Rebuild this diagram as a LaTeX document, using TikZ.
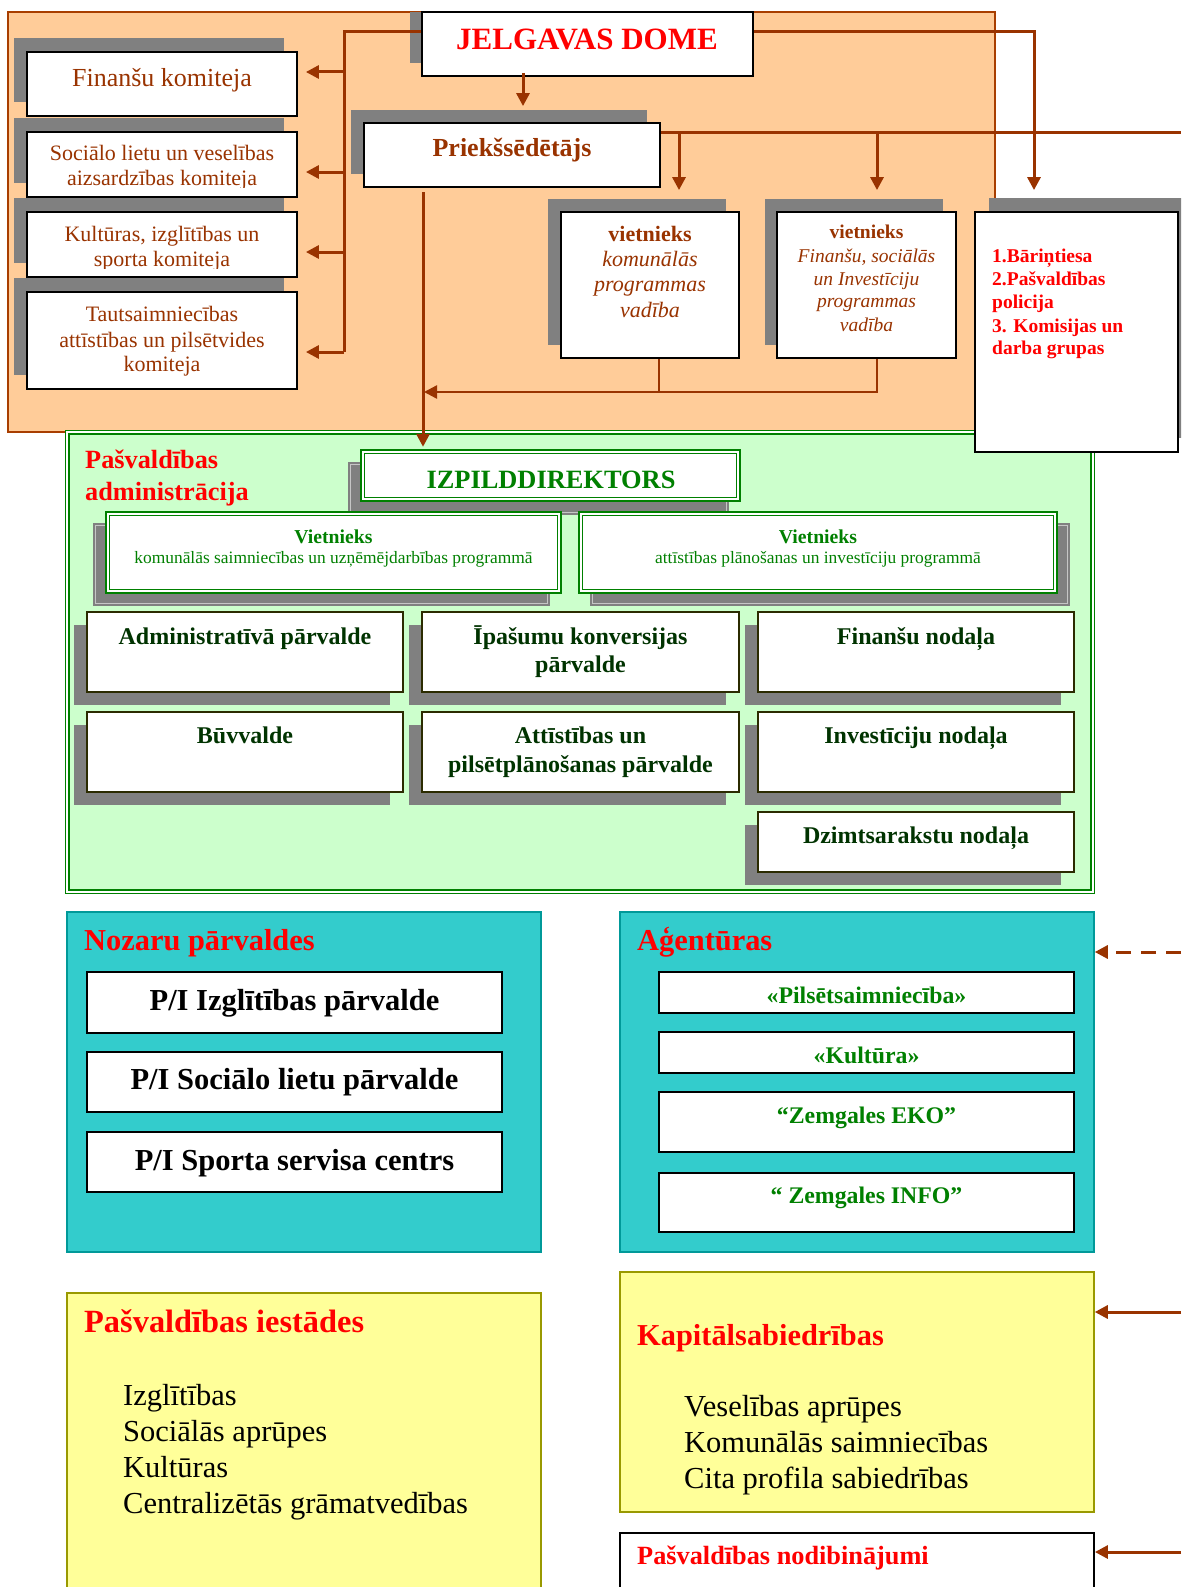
\documentclass[tikz,border=0pt]{standalone}
\usepackage{fontspec}
\setmainfont{Liberation Serif}
\usetikzlibrary{arrows.meta,fit}
\definecolor{peach}{HTML}{FFCC99}
\definecolor{brn}{HTML}{993300}
\definecolor{shd}{HTML}{808080}
\definecolor{lgrn}{HTML}{CCFFCC}
\definecolor{grn}{HTML}{008000}
\definecolor{dgrn}{HTML}{003300}
\definecolor{dline}{HTML}{2B2B00}
\definecolor{teala}{HTML}{33CCCC}
\definecolor{tealb}{HTML}{009999}
\definecolor{yel}{HTML}{FFFF99}
\definecolor{olv}{HTML}{999900}
\definecolor{redt}{HTML}{FF0000}
\newcommand{\fz}[1]{\fontsize{#1}{#1}\selectfont}
\tikzset{
  wbox/.style={draw=black, line width=1.8pt, fill=white, inner sep=0pt},
  dbox/.style={draw=dline, line width=1.8pt, fill=white, inner sep=0pt},
  gbox/.style={draw=grn, double=white, double distance=2pt, line width=1.6pt, fill=white, inner sep=0pt},
  panel/.style={line width=1.5pt, inner sep=0pt},
  txt/.style={inner sep=0pt, anchor=base},
  ltxt/.style={inner sep=0pt, anchor=base west},
  shadowbox/.style={fill=shd},
  conn/.style={draw=brn, line width=3pt},
  arr/.style={conn, -{Triangle[length=13pt,width=13pt]}},
  thinarr/.style={draw=brn, line width=2.4pt, -{Triangle[length=13pt,width=13pt]}},
  dashedarr/.style={arr, dash pattern=on 15pt off 10pt},
  comtxt/.style={txt, text=brn, font=\fz{22}},
  deptxt/.style={txt, text=dgrn, font=\bfseries\fz{24}},
  nozbtxt/.style={txt, text=black, font=\bfseries\fz{30.5}},
  agtxt/.style={txt, text=grn, font=\bfseries\fz{23.8}},
  ttl/.style={ltxt, text=redt, font=\bfseries\fz{30.4}},
  itm/.style={ltxt, text=black, font=\fz{30.5}},
  bartxt/.style={ltxt, text=redt, font=\bfseries\fz{19.5}}
}
\begin{document}
\begin{tikzpicture}[x=1pt,y=-1pt]
\useasboundingbox (0,0) rectangle (1181,1587);
\clip (0,0) rectangle (1181,1587);

% ===== top orange panel =====
\node[panel, fit={(8,12) (995,432)}, fill=peach, draw=brn!85!orange] (dome) {};

% JELGAVAS DOME
\fill[shadowbox] (410,12) rectangle (741,63);
\node[wbox, fit={(422,12) (753,76)}] (jel) {};
\node[txt, text=redt, font=\bfseries\fz{31}] (tjel) at (587,50) {JELGAVAS DOME};

% committees
\fill[shadowbox] (14,38) rectangle (284,102);
\node[wbox, fit={(27,52) (297,116)}] (fin) {};
\node[txt, text=brn, font=\fz{26}] (tfin) at (162,86) {Finanšu komiteja};

\fill[shadowbox] (14,118) rectangle (284,183);
\node[wbox, fit={(27,132) (297,197)}] (soc) {};
\begin{scope}
\clip (28,133) rectangle (296,187.5);
\node[comtxt] (tsoc1) at (162,160) {Sociālo lietu un veselības};
\node[comtxt] (tsoc2) at (162,185) {aizsardzības komiteja};
\end{scope}

\fill[shadowbox] (14,198) rectangle (284,263);
\node[wbox, fit={(27,212) (297,277)}] (kul) {};
\begin{scope}
\clip (28,213) rectangle (296,268);
\node[comtxt] (tkul1) at (162,241) {Kultūras, izglītības un};
\node[comtxt] (tkul2) at (162,266) {sporta komiteja};
\end{scope}

\fill[shadowbox] (14,278) rectangle (284,375);
\node[wbox, fit={(27,292) (297,389)}] (tau) {};
\node[comtxt] (ttau1) at (162,321) {Tautsaimniecības};
\node[comtxt] (ttau2) at (162,347) {attīstības un pilsētvides};
\node[comtxt] (ttau3) at (162,371) {komiteja};

% Priekšsēdētājs
\fill[shadowbox] (351,110) rectangle (647,174);
\node[wbox, fit={(364,123) (660,187)}] (pr) {};
\node[txt, text=brn, font=\bfseries\fz{26}] (tpr) at (512,156) {Priekšsēdētājs};

% vietnieki
\fill[shadowbox] (548,199) rectangle (726,345);
\node[wbox, fit={(561,212) (739,358)}] (v1) {};
\node[txt, text=brn, font=\bfseries\fz{22}] (tv1a) at (650,241) {vietnieks};
\node[txt, text=brn, font=\itshape\fz{22}] (tv1b) at (650,266) {komunālās};
\node[txt, text=brn, font=\itshape\fz{22}] (tv1c) at (650,291) {programmas};
\node[txt, text=brn, font=\itshape\fz{22}] (tv1d) at (650,317) {vadība};

\fill[shadowbox] (765,199) rectangle (943,345);
\node[wbox, fit={(777,212) (956,358)}] (v2) {};
\node[txt, text=brn, font=\bfseries\fz{19.5}] (tv2a) at (866.5,238) {vietnieks};
\node[txt, text=brn, font=\itshape\fz{19.5}] (tv2b) at (866.5,262) {Finanšu, sociālās};
\node[txt, text=brn, font=\itshape\fz{19.5}] (tv2c) at (866.5,285) {un Investīciju};
\node[txt, text=brn, font=\itshape\fz{19.5}] (tv2d) at (866.5,307) {programmas};
\node[txt, text=brn, font=\itshape\fz{19.5}] (tv2e) at (866.5,331) {vadība};

% ===== green administration panel =====
\node[fit={(67.4,432.4) (1092.6,891.6)}, draw=grn, double=white, double distance=2pt, line width=1.6pt, fill=lgrn, inner sep=0pt] (adm) {};
\node[ltxt, text=redt, font=\bfseries\fz{26.3}] (tadm1) at (85,468) {Pašvaldības};
\node[ltxt, text=redt, font=\bfseries\fz{26.3}] (tadm2) at (85,500) {administrācija};

% Bāriņtiesa box (overlaps)
\fill[shadowbox] (989,198) rectangle (1195,438);
\node[wbox, fit={(975,212) (1178,452)}] (bt) {};
\node[bartxt] (tbt1) at (992,262) {1.Bāriņtiesa};
\node[bartxt] (tbt2) at (992,285) {2.Pašvaldības};
\node[bartxt] (tbt3) at (992,308) {policija};
\node[bartxt] (tbt4) at (992,332) {3. Komisijas un};
\node[bartxt] (tbt5) at (992,354) {darba grupas};

% IZPILDDIREKTORS
\fill[shadowbox] (348,462) rectangle (729,515);
\draw[gray!45, line width=0.8pt] (350.5,464.5) rectangle (726.5,512.5);
\node[gbox, fit={(362.6,451.6) (738.4,499.4)}] (iz) {};
\node[txt, text=grn, font=\bfseries\fz{26.4}] (tiz) at (551,488) {IZPILDDIREKTORS};

% Vietnieks boxes
\fill[shadowbox] (93,523) rectangle (550,606);
\draw[gray!45, line width=0.8pt] (95.5,525.5) rectangle (547.5,603.5);
\node[gbox, fit={(107.6,513.6) (559.4,591.4)}] (vk) {};
\node[txt, text=grn, font=\bfseries\fz{19.7}] (tvk1) at (333.5,543) {Vietnieks};
\node[txt, text=grn, font=\fz{17.4}] (tvk2) at (333.5,563) {komunālās saimniecības un uzņēmējdarbības programmā};

\fill[shadowbox] (590,523) rectangle (1070,606);
\draw[gray!45, line width=0.8pt] (592.5,525.5) rectangle (1067.5,603.5);
\node[gbox, fit={(580.6,513.6) (1055.4,591.4)}] (va) {};
\node[txt, text=grn, font=\bfseries\fz{19.7}] (tva1) at (818,543) {Vietnieks};
\node[txt, text=grn, font=\fz{17.4}] (tva2) at (818,563) {attīstības plānošanas un investīciju programmā};

% departments
\fill[shadowbox] (74,625) rectangle (390,705);
\node[dbox, fit={(87,612) (403,692)}] (d1) {};
\node[deptxt] (td1) at (245,644) {Administratīvā pārvalde};

\fill[shadowbox] (409,625) rectangle (726,705);
\node[dbox, fit={(422,612) (739,692)}] (d2) {};
\node[deptxt] (td2a) at (580.5,644) {Īpašumu konversijas};
\node[deptxt] (td2b) at (580.5,672) {pārvalde};

\fill[shadowbox] (745,625) rectangle (1061,705);
\node[dbox, fit={(758,612) (1074,692)}] (d3) {};
\node[deptxt] (td3) at (916,644) {Finanšu nodaļa};

\fill[shadowbox] (74,725) rectangle (390,805);
\node[dbox, fit={(87,712) (403,792)}] (d4) {};
\node[deptxt] (td4) at (245,743) {Būvvalde};

\fill[shadowbox] (409,725) rectangle (726,805);
\node[dbox, fit={(422,712) (739,792)}] (d5) {};
\node[deptxt] (td5a) at (580.5,743) {Attīstības un};
\node[deptxt] (td5b) at (580.5,772) {pilsētplānošanas pārvalde};

\fill[shadowbox] (745,725) rectangle (1061,805);
\node[dbox, fit={(758,712) (1074,792)}] (d6) {};
\node[deptxt] (td6) at (916,743) {Investīciju nodaļa};

\fill[shadowbox] (745,825) rectangle (1061,885);
\node[dbox, fit={(758,812) (1074,872)}] (d7) {};
\node[deptxt] (td7) at (916,843) {Dzimtsarakstu nodaļa};

% ===== Nozaru pārvaldes =====
\node[panel, fit={(67,912) (541,1252)}, fill=teala, draw=tealb] (noz) {};
\node[ttl] (tnoz) at (84,950) {Nozaru pārvaldes};
\node[wbox, fit={(87,972) (502,1033)}] (n1) {};
\node[nozbtxt] (tn1) at (294.5,1010) {P/I Izglītības pārvalde};
\node[wbox, fit={(87,1052) (502,1112)}] (n2) {};
\node[nozbtxt] (tn2) at (294.5,1089) {P/I Sociālo lietu pārvalde};
\node[wbox, fit={(87,1132) (502,1192)}] (n3) {};
\node[nozbtxt] (tn3) at (294.5,1170) {P/I Sporta servisa centrs};

% ===== Aģentūras =====
\node[panel, fit={(620,912) (1094,1252)}, fill=teala, draw=tealb] (ag) {};
\node[ttl] (tag) at (637,950) {Aģentūras};
\node[wbox, fit={(659,972) (1074,1013)}] (a1) {};
\node[agtxt] (ta1) at (866.5,1003) {«Pilsētsaimniecība»};
\node[wbox, fit={(659,1032) (1074,1073)}] (a2) {};
\node[agtxt] (ta2) at (866.5,1063) {«Kultūra»};
\node[wbox, fit={(659,1092) (1074,1152)}] (a3) {};
\node[agtxt] (ta3) at (866.5,1123) {“Zemgales EKO”};
\node[wbox, fit={(659,1173) (1074,1232)}] (a4) {};
\node[agtxt] (ta4) at (866.5,1203) {“ Zemgales INFO”};

% ===== Pašvaldības iestādes =====
\node[panel, fit={(67,1293) (541,1610)}, fill=yel, draw=olv] (ies) {};
\node[ltxt, text=redt, font=\bfseries\fz{32.4}] (ties) at (84,1332) {Pašvaldības iestādes};
\node[itm] (ti1) at (123,1405) {Izglītības};
\node[itm] (ti2) at (123,1441) {Sociālās aprūpes};
\node[itm] (ti3) at (123,1477) {Kultūras};
\node[itm] (ti4) at (123,1513) {Centralizētās grāmatvedības};

% ===== Kapitālsabiedrības =====
\node[panel, fit={(620,1272) (1094,1512)}, fill=yel, draw=olv] (kap) {};
\node[ttl] (tkap) at (637,1345) {Kapitālsabiedrības};
\node[itm] (tk1) at (684,1416) {Veselības aprūpes};
\node[itm] (tk2) at (684,1452) {Komunālās saimniecības};
\node[itm] (tk3) at (684,1488) {Cita profila sabiedrības};

% ===== Pašvaldības nodibinājumi =====
\node[wbox, fit={(620,1533) (1094,1610)}] (nod) {};
\node[ltxt, text=redt, font=\bfseries\fz{26.3}] (tnod) at (637,1564) {Pašvaldības nodibinājumi};

% ===== connectors =====
\coordinate (jl) at (344,32);
\coordinate (jlb) at (344,352);
\draw[conn] (jel.west |- jl) -- (jl) -- (jlb);
\coordinate (c1) at (344,72);
\coordinate (c2) at (344,172);
\coordinate (c3) at (344,252);
\draw[arr, shorten >=8pt] (c1) -- (c1 -| fin.east);
\draw[arr, shorten >=8pt] (c2) -- (c2 -| soc.east);
\draw[arr, shorten >=8pt] (c3) -- (c3 -| kul.east);
\draw[arr, shorten >=8pt] (jlb) -- (jlb -| tau.east);

\coordinate (jp) at (523,73);
\draw[arr, shorten >=16pt] (jp) -- (jp |- pr.north);

\coordinate (pe) at (1181,132);
\draw[conn] (pr.east |- pe) -- (pe);
\coordinate (p1) at (679,132);
\coordinate (p2) at (877,132);
\draw[arr, shorten >=21pt] (p1) -- (p1 |- v1.north);
\draw[arr, shorten >=21pt] (p2) -- (p2 |- v2.north);

\coordinate (jr) at (1034,32);
\draw[arr, shorten >=21pt] (jel.east |- jr) -- (jr) -- (jr |- bt.north);

\coordinate (vt) at (423,192);
\draw[arr, shorten >=4pt] (vt) -- (vt |- iz.north);
\coordinate (b1) at (659,392);
\coordinate (b2) at (877,392);
\draw[draw=brn, line width=2.4pt] (b1 |- v1.south) -- (b1);
\draw[thinarr, shorten >=1pt] (b2 |- v2.south) -- (b2) -- (b2 -| vt);

\coordinate (d1e) at (1181,952);
\draw[dashedarr] (d1e) -- (d1e -| ag.east);
\coordinate (k1e) at (1181,1312);
\draw[arr] (k1e) -- (k1e -| kap.east);
\coordinate (n1e) at (1181,1552);
\draw[arr] (n1e) -- (n1e -| nod.east);
\end{tikzpicture}
\end{document}
